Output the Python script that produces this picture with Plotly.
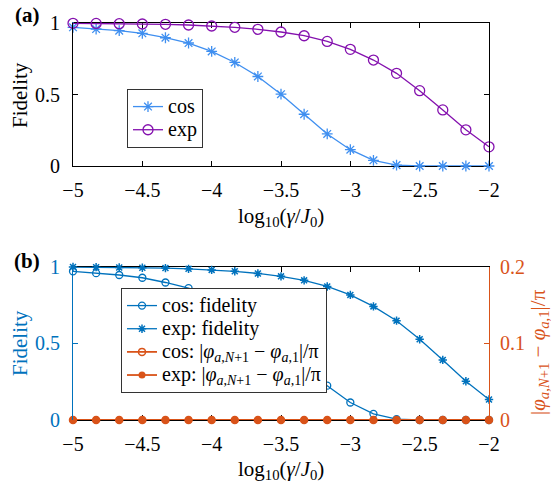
import plotly.graph_objects as go

# log10(gamma / J0) sample points
log_gamma = [-5.0, -4.8333, -4.6667, -4.5, -4.3333, -4.1667, -4.0, -3.8333, -3.6667,
             -3.5, -3.3333, -3.1667, -3.0, -2.8333, -2.6667, -2.5, -2.3333, -2.1667, -2.0]

# fidelity for the two coupling profiles
fid_cos = [0.970, 0.958, 0.946, 0.928, 0.897, 0.860, 0.801, 0.724, 0.626,
           0.502, 0.362, 0.224, 0.114, 0.040, 0.006, 0.0, 0.0, 0.0, 0.0]
fid_exp = [0.998, 0.997, 0.995, 0.993, 0.991, 0.986, 0.979, 0.970, 0.956,
           0.937, 0.911, 0.871, 0.816, 0.741, 0.648, 0.527, 0.392, 0.253, 0.134]

# phase difference |phi_{a,N+1} - phi_{a,1}| / pi
phase_cos = [0.0, 0.0, 0.0, 0.0, 0.0, 0.0, 0.0, 0.0, 0.0, 0.0,
             0.0, 0.0, 0.0, 0.0, 0.0, 0.0, 0.0, 0.0, 0.0]
phase_exp = [0.0, 0.0, 0.0, 0.0, 0.0, 0.0, 0.0, 0.0, 0.0, 0.0,
             0.0, 0.0, 0.0, 0.0, 0.0, 0.0, 0.0, 0.0, 0.0]

x_ticks = [-5, -4.5, -4, -3.5, -3, -2.5, -2]
x_ticktext = ["−5", "−4.5", "−4", "−3.5", "−3", "−2.5", "−2"]
fid_ticks = [0, 0.5, 1]
fid_ticktext = ["0", "0.5", "1"]
phase_ticks = [0, 0.1, 0.2]
phase_ticktext = ["0", "0.1", "0.2"]

W, H = 552, 487
FONT = "Liberation Serif, Times New Roman, Times, DejaVu Serif, serif"
C_COS_A = "#3f8ff0"
C_EXP_A = "#8410ae"
C_BLUE = "#0072bd"
C_ORANGE = "#d95319"


def fx(p):
    return p / W


def fy(p):
    return 1 - p / H


def big(text, size=20):
    # legend rows keep a compact height while the label itself is drawn larger
    return "<span style='font-size:%dpx'>%s</span>" % (size, text)


fig = go.Figure()

# ---- panel (a)
fig.add_trace(go.Scatter(
    x=log_gamma, y=fid_cos, name=big("cos"), mode="lines+markers",
    line=dict(color=C_COS_A, width=1.3),
    marker=dict(symbol="asterisk-open", size=9, color=C_COS_A,
                line=dict(color=C_COS_A, width=1.3)),
    cliponaxis=False, xaxis="x", yaxis="y", legend="legend"))
fig.add_trace(go.Scatter(
    x=log_gamma, y=fid_exp, name=big("exp"), mode="lines+markers",
    line=dict(color=C_EXP_A, width=1.3),
    marker=dict(symbol="circle-open", size=10, color=C_EXP_A,
                line=dict(color=C_EXP_A, width=1.3)),
    cliponaxis=False, xaxis="x", yaxis="y", legend="legend"))

# ---- panel (b)
fig.add_trace(go.Scatter(
    x=log_gamma, y=fid_cos, name=big("cos: fidelity"), mode="lines+markers",
    line=dict(color=C_BLUE, width=1.3),
    marker=dict(symbol="circle-open", size=7, color=C_BLUE,
                line=dict(color=C_BLUE, width=1.3)),
    cliponaxis=False, xaxis="x2", yaxis="y3", legend="legend2"))
fig.add_trace(go.Scatter(
    x=log_gamma, y=fid_exp, name=big("exp: fidelity"), mode="lines+markers",
    line=dict(color=C_BLUE, width=1.3),
    marker=dict(symbol="asterisk-open", size=7, color=C_BLUE,
                line=dict(color=C_BLUE, width=1.5)),
    cliponaxis=False, xaxis="x2", yaxis="y3", legend="legend2"))

phase_label = ("|<i>φ</i><sub><i>a</i>,<i>N</i>+1</sub> − "
               "<i>φ</i><sub><i>a</i>,1</sub>|/π")
fig.add_trace(go.Scatter(
    x=log_gamma, y=phase_cos, name=big("cos: " + phase_label), mode="lines+markers",
    line=dict(color=C_ORANGE, width=1.8),
    marker=dict(symbol="circle-open", size=7, color=C_ORANGE,
                line=dict(color=C_ORANGE, width=1.5)),
    cliponaxis=False, xaxis="x2", yaxis="y4", legend="legend2"))
fig.add_trace(go.Scatter(
    x=log_gamma, y=phase_exp, name=big("exp: " + phase_label), mode="lines+markers",
    line=dict(color=C_ORANGE, width=1.8),
    marker=dict(symbol="circle", size=7, color=C_ORANGE),
    cliponaxis=False, xaxis="x2", yaxis="y4", legend="legend2"))

tick_font = dict(family=FONT, size=20, color="black")
x_dom = [fx(73), fx(489)]

common_x = dict(range=[-5, -2], tickvals=x_ticks, ticktext=x_ticktext,
                ticks="inside", ticklen=5, tickwidth=1, tickcolor="black",
                showline=True, linecolor="black", linewidth=1, mirror="ticks",
                showgrid=False, zeroline=False, tickfont=tick_font,
                ticklabelstandoff=6, automargin=False,
                domain=x_dom, layer="below traces")

fig.update_layout(
    width=W, height=H,
    margin=dict(l=0, r=0, t=0, b=0),
    paper_bgcolor="white", plot_bgcolor="white",
    font=dict(family=FONT, size=20, color="black"),
    xaxis=dict(anchor="y", **common_x),
    yaxis=dict(anchor="x", domain=[fy(166), fy(23)], range=[0, 1],
               tickvals=fid_ticks, ticktext=fid_ticktext,
               ticks="inside", ticklen=5, tickcolor="black",
               showline=True, linecolor="black", linewidth=1, mirror="ticks",
               showgrid=False, zeroline=False, tickfont=tick_font,
               ticklabelstandoff=8, automargin=False),
    xaxis2=dict(anchor="y3", **common_x),
    yaxis3=dict(anchor="x2", domain=[fy(420), fy(266.7)], range=[0, 1],
                tickvals=fid_ticks, ticktext=fid_ticktext,
                ticks="inside", ticklen=5, tickcolor=C_BLUE,
                showline=True, linecolor=C_BLUE, linewidth=1, mirror=False,
                showgrid=False, zeroline=False, ticklabelstandoff=8,
                automargin=False,
                tickfont=dict(family=FONT, size=20, color=C_BLUE)),
    yaxis4=dict(anchor="x2", overlaying="y3", side="right", range=[0, 0.2],
                tickvals=phase_ticks, ticktext=phase_ticktext,
                ticks="inside", ticklen=5, tickcolor=C_ORANGE,
                showline=True, linecolor=C_ORANGE, linewidth=1,
                showgrid=False, zeroline=False, ticklabelstandoff=6,
                automargin=False,
                tickfont=dict(family=FONT, size=20, color=C_ORANGE)),
    legend=dict(x=fx(127), y=fy(89), xanchor="left", yanchor="top",
                bgcolor="white", bordercolor="#333333", borderwidth=1,
                font=dict(family=FONT, size=15.5, color="black"),
                itemwidth=30, tracegroupgap=0),
    legend2=dict(x=fx(121), y=fy(288), xanchor="left", yanchor="top",
                 bgcolor="white", bordercolor="#333333", borderwidth=1,
                 font=dict(family=FONT, size=15.5, color="black"),
                 itemwidth=30, tracegroupgap=0),
    showlegend=True,
)

x_title = "log<sub>10</sub>(<i>γ</i>/<i>J</i><sub>0</sub>)"
annotations = [
    dict(text="<b>(a)</b>", x=fx(27), y=fy(15), font=dict(size=21)),
    dict(text="Fidelity", x=fx(20), y=fy(95), textangle=-90, font=dict(size=21)),
    dict(text=x_title, x=fx(281), y=fy(217), font=dict(size=21)),
    dict(text="<b>(b)</b>", x=fx(27), y=fy(261), font=dict(size=21)),
    dict(text="Fidelity", x=fx(20), y=fy(343), textangle=-90,
         font=dict(size=21, color=C_BLUE)),
    dict(text=x_title, x=fx(281), y=fy(470), font=dict(size=21)),
    dict(text=phase_label, x=fx(539), y=fy(352), textangle=-90,
         font=dict(size=21, color=C_ORANGE)),
]
for a in annotations:
    a.update(xref="paper", yref="paper", showarrow=False,
             xanchor="center", yanchor="middle")
    a["font"].setdefault("family", FONT)
    a["font"].setdefault("color", "black")
fig.update_layout(annotations=annotations)

fig.write_html("out.html")
